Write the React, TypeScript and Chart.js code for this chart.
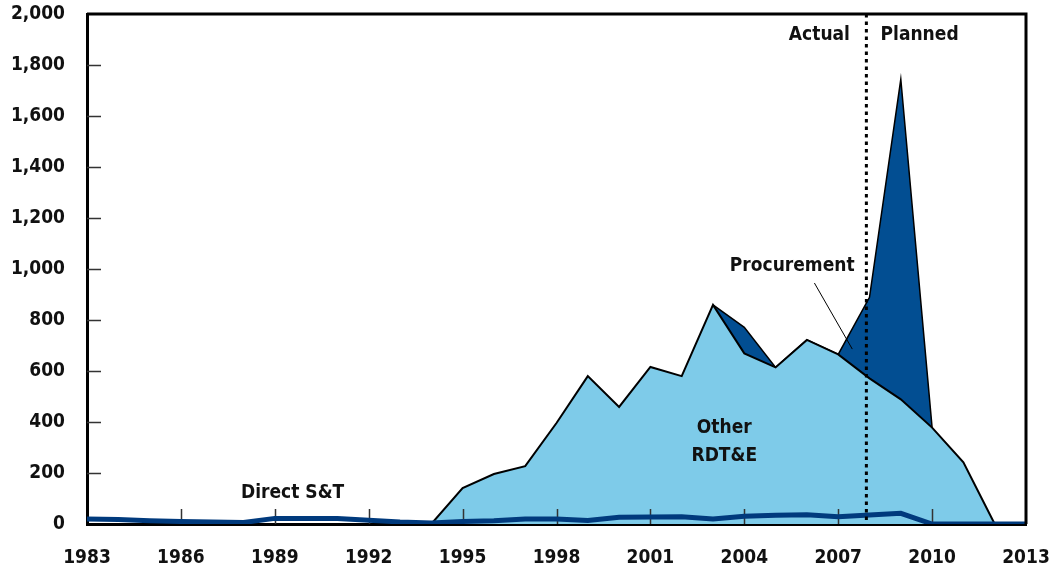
import React, { useEffect, useRef } from "react";
import { Chart, registerables } from "chart.js";

Chart.register(...registerables);

const years = [
  1983, 1984, 1985, 1986, 1987, 1988, 1989, 1990, 1991, 1992, 1993, 1994, 1995, 1996, 1997, 1998,
  1999, 2000, 2001, 2002, 2003, 2004, 2005, 2006, 2007, 2008, 2009, 2010, 2011, 2012, 2013,
];

const directST = [
  20, 18, 13, 10, 8, 6, 22, 22, 22, 15, 8, 4, 10, 13, 20, 20,
  14, 26, 27, 28, 20, 30, 34, 36, 28, 35, 42, 0, 0, 0, 0,
];

const otherRDTE = [
  null, null, null, null, null, null, null, null, null, null, null, 0, 141, 196, 227, 396,
  580, 459, 616, 580, 859, 669, 614, 722, 665, 571, 489, 378, 242, 0, 0,
];

const procurement = [
  null, null, null, null, null, null, null, null, null, null, null, null, null, null, null, null,
  null, null, null, null, 0, 102, 0, 0, 0, 318, 1255, 0, null, null, null,
];

const yTicks = [0, 200, 400, 600, 800, 1000, 1200, 1400, 1600, 1800, 2000];
const xTicks = [1983, 1986, 1989, 1992, 1995, 1998, 2001, 2004, 2007, 2010, 2013];

const actualPlannedSplit = 2007.9;

const FONT = '"DejaVu Sans Condensed", "DejaVu Sans", sans-serif';

export default function App() {
  const ref = useRef<HTMLCanvasElement>(null);

  useEffect(() => {
    const canvas = ref.current;
    if (!canvas) return;

    const otherPts = years.map((y, i) => ({ x: y, y: otherRDTE[i] }));
    const procPts = years.map((y, i) => ({
      x: y,
      y: procurement[i] === null || otherRDTE[i] === null ? null : (otherRDTE[i] as number) + (procurement[i] as number),
    }));
    const stPts = years.map((y, i) => ({ x: y, y: directST[i] }));

    const decor = {
      id: "decor",
      afterDatasetDraw(chart: any, args: any) {
        if (args.index !== 1) return;
        const ctx = chart.ctx;
        const xs = chart.scales.x;
        const ys = chart.scales.y;
        const ca = chart.chartArea;
        ctx.save();
        ctx.strokeStyle = "#333";
        ctx.lineWidth = 1.5;
        ctx.beginPath();
        yTicks.forEach((v) => {
          if (v === 0 || v === 2000) return;
          const py = Math.round(ys.getPixelForValue(v)) + 0.5;
          ctx.moveTo(ca.left, py);
          ctx.lineTo(ca.left + 14, py);
        });
        xTicks.forEach((v) => {
          if (v === 1983 || v === 2013) return;
          const px = Math.round(xs.getPixelForValue(v)) + 0.5;
          ctx.moveTo(px, ca.bottom);
          ctx.lineTo(px, ca.bottom - 15);
        });
        ctx.stroke();
        ctx.restore();
      },
      afterDatasetsDraw(chart: any) {
        const ctx = chart.ctx;
        const xs = chart.scales.x;
        const ys = chart.scales.y;
        const ca = chart.chartArea;
        ctx.save();
        ctx.strokeStyle = "#000";
        ctx.lineWidth = 3;
        ctx.beginPath();
        ctx.moveTo(ca.left, ca.top);
        ctx.lineTo(ca.right, ca.top);
        ctx.lineTo(ca.right, ca.bottom);
        ctx.stroke();
        const dx = xs.getPixelForValue(actualPlannedSplit);
        ctx.setLineDash([3.5, 4]);
        ctx.lineWidth = 3;
        ctx.beginPath();
        ctx.moveTo(dx, ca.top);
        ctx.lineTo(dx, ca.bottom);
        ctx.stroke();
        ctx.setLineDash([]);
        ctx.lineWidth = 1;
        ctx.beginPath();
        ctx.moveTo(xs.getPixelForValue(2006.24), ys.getPixelForValue(945));
        ctx.lineTo(xs.getPixelForValue(2007.45), ys.getPixelForValue(686));
        ctx.stroke();
        ctx.fillStyle = "#111";
        ctx.font = "bold 19px " + FONT;
        ctx.textAlign = "center";
        ctx.textBaseline = "middle";
        const label = (t: string, xv: number, yv: number) =>
          ctx.fillText(t, xs.getPixelForValue(xv), ys.getPixelForValue(yv));
        label("Actual", 2006.4, 1918);
        label("Planned", 2009.6, 1918);
        label("Procurement", 2005.53, 1012);
        label("Other", 2003.36, 378);
        label("RDT&E", 2003.36, 268);
        label("Direct S&T", 1989.57, 123);
        ctx.restore();
      },
    };

    const chart = new Chart(canvas, {
      type: "line",
      data: {
        datasets: [
          {
            label: "Direct S&T",
            data: stPts,
            borderColor: "#003a7d",
            borderWidth: 5,
            pointRadius: 0,
            fill: false,
            tension: 0,
          },
          {
            label: "Other RDT&E",
            data: otherPts,
            borderColor: "#000",
            borderWidth: 2,
            backgroundColor: "#7ecbe9",
            pointRadius: 0,
            fill: "origin",
            tension: 0,
          },
          {
            label: "Procurement",
            data: procPts,
            borderColor: "#000",
            borderWidth: 1.5,
            backgroundColor: "#024e92",
            pointRadius: 0,
            fill: 1,
            tension: 0,
          },
        ] as any,
      },
      options: {
        animation: false,
        responsive: false,
        maintainAspectRatio: false,
        layout: { padding: { top: 14, right: 26, left: 0, bottom: 0 } },
        plugins: {
          legend: { display: false },
          tooltip: { enabled: false },
        },
        scales: {
          x: {
            type: "linear",
            min: 1983,
            max: 2013,
            afterBuildTicks: (s: any) => {
              s.ticks = xTicks.map((v) => ({ value: v }));
            },
            afterFit: (s: any) => {
              s.height = 47;
              s.paddingLeft = 0;
              s.paddingRight = 0;
            },
            grid: { display: false, drawTicks: false },
            border: { display: true, color: "#000", width: 3 },
            ticks: {
              padding: 23,
              color: "#111",
              font: { family: FONT, size: 19, weight: "bold" },
              callback: (v: any) => String(v),
              maxRotation: 0,
              autoSkip: false,
            },
          },
          y: {
            min: 0,
            max: 2000,
            afterBuildTicks: (s: any) => {
              s.ticks = yTicks.map((v) => ({ value: v }));
            },
            afterFit: (s: any) => {
              s.width = 87;
              s.paddingTop = 0;
              s.paddingBottom = 0;
            },
            grid: { display: false, drawTicks: false },
            border: { display: true, color: "#000", width: 3 },
            ticks: {
              padding: 22,
              color: "#111",
              font: { family: FONT, size: 19, weight: "bold" },
              callback: (v: any) => Number(v).toLocaleString("en-US"),
              autoSkip: false,
            },
          },
        },
      } as any,
      plugins: [decor],
    });

    return () => chart.destroy();
  }, []);

  return (
    <div style={{ position: "fixed", left: 0, top: 0, width: 1052, height: 571, background: "#fff" }}>
      <canvas ref={ref} width={1052} height={571} style={{ display: "block" }} />
    </div>
  );
}
